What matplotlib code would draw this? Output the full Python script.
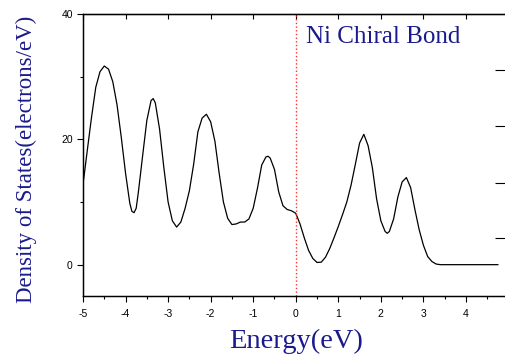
import matplotlib
matplotlib.use('Agg')
import matplotlib.pyplot as plt

# Density of states
energy = [-5.0, -4.9, -4.8, -4.7, -4.6, -4.5, -4.4, -4.3, -4.2, -4.1, -4.0,
          -3.9, -3.85, -3.8, -3.75, -3.7, -3.6, -3.5, -3.4, -3.35, -3.3, -3.2,
          -3.1, -3.0, -2.9, -2.8, -2.7, -2.6, -2.5, -2.4, -2.3, -2.2, -2.1,
          -2.0, -1.9, -1.8, -1.7, -1.6, -1.5, -1.4, -1.3, -1.2, -1.1, -1.0,
          -0.9, -0.8, -0.7, -0.65, -0.6, -0.5, -0.4, -0.3, -0.2, -0.1, 0.0,
          0.1, 0.2, 0.3, 0.4, 0.5, 0.6, 0.7, 0.8, 0.9, 1.0, 1.1, 1.2, 1.3,
          1.4, 1.5, 1.6, 1.7, 1.8, 1.9, 2.0, 2.1, 2.15, 2.2, 2.3, 2.4, 2.5,
          2.6, 2.7, 2.8, 2.9, 3.0, 3.1, 3.2, 3.3, 3.4, 3.5, 4.75]
dos = [12.8, 18.2, 23.5, 28.3, 30.8, 31.7, 31.2, 29.2, 25.5, 20.3, 14.6,
       9.8, 8.5, 8.3, 9.0, 11.5, 17.3, 23.0, 26.2, 26.5, 25.8, 21.6,
       15.5, 10.0, 7.0, 6.0, 6.8, 9.0, 11.8, 16.0, 21.2, 23.4, 24.0,
       22.8, 19.7, 14.6, 10.0, 7.4, 6.4, 6.5, 6.8, 6.8, 7.3, 9.0,
       12.2, 15.9, 17.2, 17.3, 17.0, 15.2, 11.6, 9.4, 8.8, 8.6, 8.2,
       6.5, 4.3, 2.3, 1.0, 0.35, 0.4, 1.2, 2.6, 4.3, 6.1, 8.0, 10.0, 12.7,
       16.0, 19.4, 20.8, 19.0, 15.5, 10.5, 7.0, 5.3, 5.0, 5.3, 7.3, 10.8, 13.2,
       13.9, 12.3, 8.8, 5.6, 3.1, 1.3, 0.5, 0.1, 0.0, 0.0, 0.0]

x_ticks = [-5, -4, -3, -2, -1, 0, 1, 2, 3, 4, 5]
x_labels = ['-5', '-4', '-3', '-2', '-1', '0', '1', '2', '3', '4', '']
y_ticks = [0, 20, 40]
right_ticks = [4.2, 13.1, 22.1, 31.0]

navy = '#1a1a8c'
serif = ['Liberation Serif', 'DejaVu Serif']
plt.rcParams['font.family'] = ['Liberation Sans', 'DejaVu Sans']

fig = plt.figure(figsize=(5.05, 3.55), dpi=100)
ax = fig.add_axes([83 / 505, 59 / 355, 425.5 / 505, 282 / 355])

ax.plot(energy, dos, color='black', lw=0.9)
ax.axvline(0, color='#ff3030', ls=':', lw=1.0)

ax.set_xlim(-5, 5)
ax.set_ylim(-5, 40)
ax.set_xticks(x_ticks)
ax.set_xticklabels(x_labels)
ax.set_xticks([v + 0.5 for v in x_ticks[:-1]], minor=True)
ax.set_yticks(y_ticks)
ax.set_yticks([10, 30], minor=True)
ax.tick_params(axis='both', which='major', length=4.3, width=0.8,
               labelsize=7.5, direction='out', pad=3)
ax.tick_params(axis='both', which='minor', length=2.2, width=0.8,
               direction='out')
ax.tick_params(axis='x', pad=5)

for s in ax.spines.values():
    s.set_linewidth(1.0)

top = ax.secondary_xaxis('top')
top.set_xticks(x_ticks)
top.tick_params(direction='in', length=3.6, width=0.8, labeltop=False)

right = ax.twinx()
right.set_ylim(ax.get_ylim())
right.set_yticks(right_ticks)
right.tick_params(direction='in', length=10, width=0.8, labelright=False)

ax.set_xlabel('Energy(eV)', family=serif, fontsize=20.5, color=navy)
ax.xaxis.set_label_coords(0.5, -0.115)
ax.set_ylabel('Density of States(electrons/eV)', family=serif, fontsize=16.5,
              color=navy)
ax.yaxis.set_label_coords(-0.108, 0.485)

ax.text(0.24, 35.4, 'Ni Chiral Bond', family=serif, fontsize=18,
        color=navy, va='baseline')

fig.savefig('out.png', dpi=100)
